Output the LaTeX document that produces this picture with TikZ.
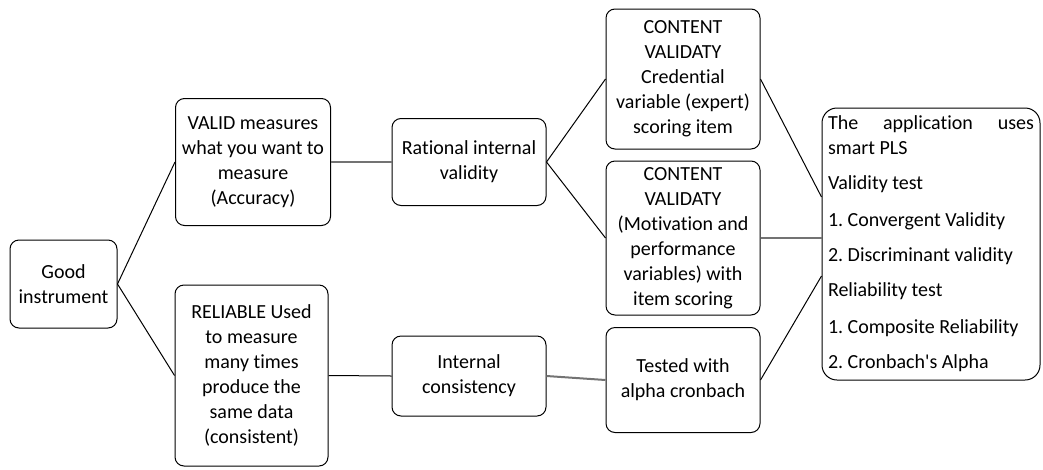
\documentclass[tikz,border=0pt]{standalone}
\usepackage{fontspec}
\setmainfont{Carlito}[Ligatures=CommonOff]
\frenchspacing
\tikzset{
  box/.style={draw, rounded corners=9pt, align=center, line width=1pt, inner sep=2pt,
    font=\fontsize{20}{25}\selectfont},
  link/.style={line width=1pt},
  glink/.style={line width=2pt, black!55}
}
\begin{document}
\begin{tikzpicture}[x=1pt,y=-1pt]
    \useasboundingbox (0,0) rectangle (1043,469);

    % Define the boxes
    \node[box, minimum width=107pt, minimum height=88pt] (good) at (63.5,284) {Good\\instrument};
    \node[box, minimum width=155pt, minimum height=127pt] (valid) at (253,162) {VALID measures\\what you want to\\measure\\(Accuracy)};
    \node[box, minimum width=153pt, minimum height=181pt] (reliable) at (251.5,375.5) {RELIABLE Used\\to measure\\many times\\produce the\\same data\\(consistent)};
    \node[box, minimum width=154pt, minimum height=87pt] (rational) at (469,162) {Rational internal\\validity};
    \node[box, minimum width=154pt, minimum height=80pt] (internal) at (469,376) {Internal\\consistency};
    \node[box, minimum width=154pt, minimum height=140pt] (content1) at (683,79) {CONTENT\\VALIDATY\\Credential\\variable (expert)\\scoring item};
    \node[box, minimum width=154pt, minimum height=154pt] (content2) at (683,238) {CONTENT\\VALIDATY\\(Motivation and\\performance\\variables) with\\item scoring};
    \node[box, minimum width=154pt, minimum height=105pt] (tested) at (683,380) {Tested with\\alpha cronbach};
    \node[box, rounded corners=15pt, align=flush left, text width=206pt, inner xsep=6pt,
      minimum height=272pt] (smartpls) at (931,244) {%
      The\hfill application\hfill uses\\
      smart PLS\\[10pt]
      Validity test\\[12pt]
      1. Convergent Validity\\[10pt]
      2. Discriminant validity\\[10pt]
      Reliability test\\[12pt]
      1. Composite Reliability\\[10pt]
      2. Cronbach\textquotesingle s Alpha\\[32pt]};

    % Points on the left side of the last box
    \coordinate (in1) at (smartpls.west |- 0,197);
    \coordinate (in2) at (smartpls.west |- 0,238);
    \coordinate (in3) at (smartpls.west |- 0,276);

    % Draw the connectors
    \draw[link] (good.east) -- (valid.west);
    \draw[link] (good.east) -- (reliable.west);
    \draw[glink] (valid.east) -- (rational.west);
    \draw[link] (reliable.east) -- (internal.west);
    \draw[link] (rational.east) -- (content1.west);
    \draw[link] (rational.east) -- (content2.west);
    \draw[glink] (internal.east) -- (tested.west);
    \draw[link] (content1.east) -- (in1);
    \draw[glink] (content2.east) -- (in2);
    \draw[link] (tested.east) -- (in3);
\end{tikzpicture}
\end{document}
